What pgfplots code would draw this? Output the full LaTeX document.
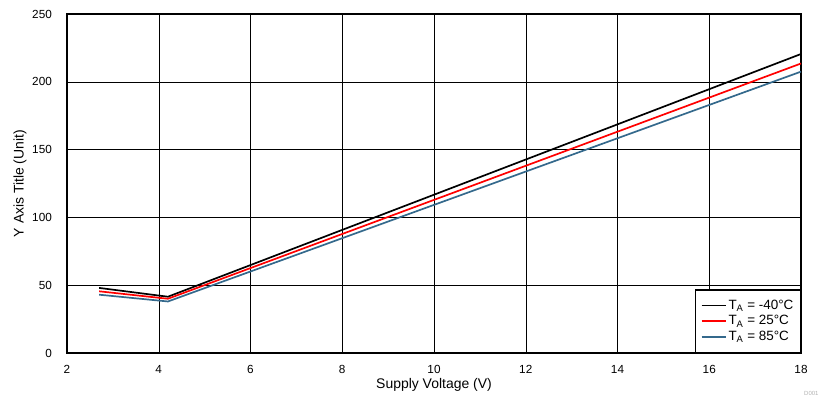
\documentclass[border=0pt]{standalone}
\usepackage{pgfplots}
\pgfplotsset{compat=1.18}
\usepackage{fontspec}
\setmainfont{Liberation Sans}
\definecolor{tblue}{RGB}{52,105,140}
\begin{document}
\fontsize{12}{14}\selectfont
\begin{tikzpicture}
\begin{axis}[
  scale only axis,
  width=734bp, height=339bp,
  xmin=2, xmax=18, ymin=0, ymax=250,
  xtick={2,4,...,18}, ytick={0,50,...,250},
  /pgf/number format/assume math mode=true,
  grid=major,
  major grid style={black, line width=0.5pt},
  major tick length=0pt,
  axis line style={black, line width=1.5pt},
  tick label style={font=\fontsize{11.8}{14}\selectfont},
  label style={font=\fontsize{14}{16}\selectfont},
  xlabel={Supply Voltage (V)},
  ylabel={Y Axis Title (Unit)},
  xlabel style={at={(axis description cs:0.5,-0.094)}, anchor=center},
  ylabel style={at={(axis description cs:-0.064,0.5)}, anchor=center},
  xticklabel style={yshift=-8pt},
  yticklabel style={xshift=-11pt},
  legend style={at={(rel axis cs:1,0)}, anchor=south east, draw=black, line width=1.3pt,
    font=\fontsize{13.5}{15}\selectfont, row sep=0.5pt, inner xsep=5pt, inner ysep=8pt},
  legend cell align=left,
  legend image code/.code={\draw[#1, line width=1.7pt] plot coordinates {(0cm,0cm) (0.42cm,0cm) (0.85cm,0cm)};},
]
\addplot[black, line width=1.7pt] coordinates {(2.7,48) (4.2,41.5) (18,220.5)};
\addlegendentry{T\textsubscript{A} = -40°C}
\addplot[red, line width=1.7pt] coordinates {(2.7,45.5) (4.2,40) (18,213.5)};
\addlegendentry{T\textsubscript{A} = 25°C}
\addplot[tblue, line width=1.7pt] coordinates {(2.7,43) (4.2,38) (18,207.5)};
\addlegendentry{T\textsubscript{A} = 85°C}
\end{axis}
\node[anchor=north west, font=\fontsize{6}{7}\selectfont, text=gray!60, inner sep=0pt] at ([xshift=3bp,yshift=-38bp]current axis.south east) {D001};
\pgfresetboundingbox
\path[use as bounding box] ([xshift=-67bp,yshift=-45bp]current axis.south west) rectangle ([xshift=18bp,yshift=14bp]current axis.north east);
\end{tikzpicture}
\end{document}
